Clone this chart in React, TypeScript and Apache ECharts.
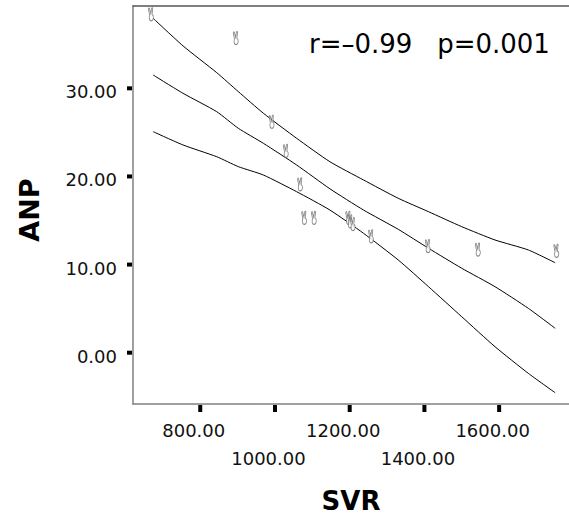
import React, { useEffect, useRef } from "react";
import * as echarts from "echarts";

// Observed cases (SVR, ANP)
const svrValues = [668, 895, 991, 1029, 1067, 1078, 1104, 1196, 1201, 1208, 1257, 1409, 1543, 1753];
const anpValues = [38.4, 35.7, 26.2, 22.9, 19.1, 15.3, 15.3, 15.3, 14.9, 14.6, 13.2, 12.1, 11.7, 11.55];

// Fitted line and 95% confidence band
const curveSvr = [674, 754, 844, 902, 969, 1058, 1147, 1237, 1330, 1411, 1500, 1589, 1678, 1750];
const fitAnp = [31.51, 29.43, 27.35, 25.46, 23.76, 21.3, 18.6, 16.19, 14.0, 11.85, 9.58, 7.49, 5.04, 2.77];
const upperAnp = [37.94, 34.81, 31.78, 29.62, 27.17, 24.33, 21.67, 19.6, 17.52, 16.0, 14.3, 12.79, 11.66, 10.21];
const lowerAnp = [25.08, 23.57, 22.24, 21.11, 20.16, 18.27, 16.19, 13.55, 10.52, 7.49, 4.08, 0.68, -2.34, -4.54];

// Axis ticks (x labels are staggered on two rows)
const svrTicks = [800, 1000, 1200, 1400, 1600];
const svrLabelsRow1 = [800, 1200, 1600];
const svrLabelsRow2 = [1000, 1400];
const anpTicks = [0, 10, 20, 30];

const statText = "r=\u20130.99   p=0.001";

const FONT = "DejaVu Sans";

const X_MIN = 620;
const X_MAX = 1787;
const Y_MIN = -5.82;
const Y_MAX = 39.34;

// victory-hand marker outline
const HAND =
  "path://M5,16 L1.5,4 C1,1.5 4,0.5 4.8,3 L8.5,13 L11,2 C11.8,0 15,0.5 14.5,3 L12.5,15 C16,16 17,19 16.5,22 C16,27 12,29 9,28.5 C5,28 3.5,25 4,21 C4,19 4.5,17 5,16 Z";

export default function App() {
  const ref = useRef<HTMLDivElement>(null);

  useEffect(() => {
    if (!ref.current) return;
    const chart = echarts.init(ref.current, undefined, { renderer: "svg" });

    const zip = (xs: number[], ys: number[]) => xs.map((x, i) => [x, ys[i]]);
    const lineSeries = (name: string, ys: number[]) => ({
      name,
      type: "line",
      data: zip(curveSvr, ys),
      symbol: "none",
      smooth: 0.2,
      lineStyle: { color: "#000", width: 1 },
      z: 2,
    });

    const xLabelStyle = {
      fontFamily: FONT,
      fontSize: 18,
      color: "#111",
      padding: [0, 13, 0, 0],
      hideOverlap: false,
      interval: 0,
      formatter: (v: number) => v.toFixed(2),
    };

    chart.setOption({
      animation: false,
      backgroundColor: "#fff",
      grid: { left: 133, top: 6, right: 0, bottom: 113, containLabel: false, outerBoundsMode: "none" },
      xAxis: [
        {
          type: "value",
          min: X_MIN,
          max: X_MAX,
          name: "SVR",
          nameLocation: "middle",
          nameGap: 84,
          nameTextStyle: { fontFamily: FONT, fontSize: 26, fontWeight: "bold", color: "#000" },
          axisLine: { show: true, onZero: true, onZeroAxisIndex: 1, lineStyle: { color: "#808080", width: 1.5 } },
          axisTick: { show: false },
          axisLabel: { ...xLabelStyle, customValues: svrLabelsRow1, margin: 17 },
          splitLine: { show: false },
        },
        {
          type: "value",
          position: "bottom",
          min: X_MIN,
          max: X_MAX,
          axisLine: { show: false, onZero: true, onZeroAxisIndex: 1 },
          axisTick: { show: false },
          axisLabel: { ...xLabelStyle, customValues: svrLabelsRow2, margin: 45 },
          splitLine: { show: false },
        },
        {
          type: "value",
          position: "top",
          min: X_MIN,
          max: X_MAX,
          axisLine: { show: true, onZero: true, onZeroAxisIndex: 1, lineStyle: { color: "#555", width: 1.5 } },
          axisTick: { show: false },
          axisLabel: { show: false },
          splitLine: { show: false },
        },
      ],
      yAxis: [
        {
          type: "value",
          min: Y_MIN,
          max: Y_MAX,
          name: "ANP",
          nameLocation: "middle",
          nameGap: 90,
          nameTextStyle: {
            fontFamily: FONT,
            fontSize: 27,
            fontWeight: "bold",
            color: "#000",
            padding: [0, 10, 0, 0],
          },
          axisLine: { show: true, lineStyle: { color: "#808080", width: 1.5 } },
          axisTick: { show: false },
          axisLabel: {
            customValues: anpTicks,
            margin: 16,
            fontFamily: FONT,
            fontSize: 18,
            color: "#111",
            verticalAlign: "top",
            lineHeight: 7,
            formatter: (v: number) => v.toFixed(2),
          },
          splitLine: { show: false },
        },
        {
          // helper axis (range excludes zero) so the x axes stay at the frame edges
          type: "value",
          show: false,
          min: 1,
          max: 2,
        },
      ],
      graphic: [
        {
          type: "text",
          left: 309,
          top: 31,
          style: { text: statText, font: `26px "${FONT}"`, fill: "#000" },
          z: 10,
        },
      ],
      series: [
        lineSeries("upper", upperAnp),
        lineSeries("fit", fitAnp),
        lineSeries("lower", lowerAnp),
        {
          name: "cases",
          type: "scatter",
          data: zip(svrValues, anpValues),
          symbol: HAND,
          symbolSize: [9, 13],
          symbolKeepAspect: true,
          itemStyle: { color: "#fff", borderColor: "#6a6a6a", borderWidth: 1 },
          z: 3,
        },
        {
          // x-axis tick marks, placed through the axis scale
          name: "xTicks",
          type: "custom",
          clip: false,
          silent: true,
          data: svrTicks.map((v) => [v, Y_MIN]),
          renderItem: (_p: any, api: any) => {
            const pt = api.coord([api.value(0), api.value(1)]);
            return {
              type: "rect",
              shape: { x: pt[0] - 2, y: pt[1] + 1, width: 4, height: 7 },
              style: { fill: "#000" },
            };
          },
          z: 5,
        },
        {
          // y-axis tick marks, placed through the axis scale
          name: "yTicks",
          type: "custom",
          clip: false,
          silent: true,
          data: anpTicks.map((v) => [X_MIN, v]),
          renderItem: (_p: any, api: any) => {
            const pt = api.coord([api.value(0), api.value(1)]);
            return {
              type: "rect",
              shape: { x: pt[0] - 6, y: pt[1] - 2, width: 5, height: 4 },
              style: { fill: "#000" },
            };
          },
          z: 5,
        },
      ],
    });

    return () => chart.dispose();
  }, []);

  return (
    <div
      ref={ref}
      style={{ position: "fixed", left: 0, top: 0, width: 569, height: 517, background: "#fff" }}
    />
  );
}
